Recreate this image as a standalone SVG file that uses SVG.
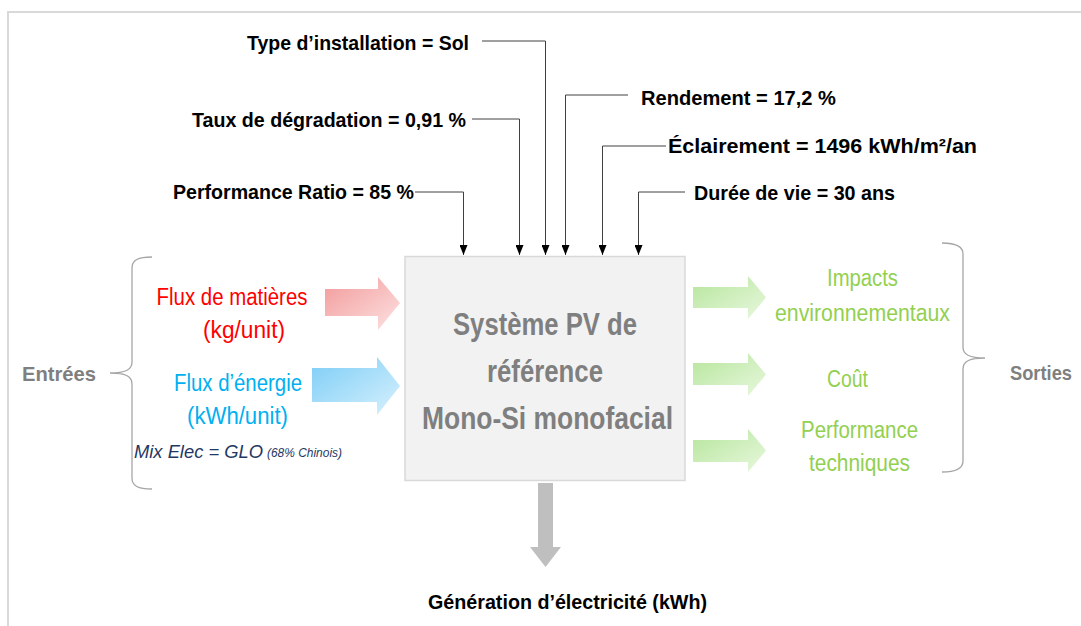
<svg xmlns="http://www.w3.org/2000/svg" width="1081" height="626" viewBox="0 0 1081 626">
<defs>
<style>
.lbl{font-family:"Liberation Sans",Arial,sans-serif;font-weight:bold;font-size:21px;fill:#000}
.side{font-family:"Liberation Sans",Arial,sans-serif;font-weight:bold;font-size:21px;fill:#7f7f7f}
.box{font-family:"Liberation Sans",Arial,sans-serif;font-weight:bold;font-size:31px;fill:#7f7f7f}
.red{font-family:"Liberation Sans",Arial,sans-serif;font-size:23px;fill:#ff0000}
.blue{font-family:"Liberation Sans",Arial,sans-serif;font-size:23px;fill:#00b0f0}
.green{font-family:"Liberation Sans",Arial,sans-serif;font-size:23px;fill:#92d050}
.mix{font-family:"Liberation Sans",Arial,sans-serif;font-style:italic;fill:#1f3864}
.conn{fill:none;stroke:#404040;stroke-width:1}
.brace{fill:none;stroke:#a6a6a6;stroke-width:1.3}
</style>
<marker id="ah" markerWidth="10" markerHeight="8" refX="10" refY="4" orient="auto" markerUnits="userSpaceOnUse">
<path d="M0,0 L10,4 L0,8 z" fill="#000"/>
</marker>
<linearGradient id="gRed" x1="0" y1="0" x2="1" y2="1">
<stop offset="0" stop-color="#f29a9a"/><stop offset="1" stop-color="#fde2e2"/>
</linearGradient>
<linearGradient id="gBlue" x1="0" y1="0" x2="1" y2="1">
<stop offset="0" stop-color="#7ccdf6"/><stop offset="1" stop-color="#d8f1fd"/>
</linearGradient>
<linearGradient id="gGreen" x1="0" y1="0" x2="1" y2="1">
<stop offset="0" stop-color="#b6e59c"/><stop offset="1" stop-color="#e8f8de"/>
</linearGradient>
</defs>

<rect width="1081" height="626" fill="#fff"/>
<path d="M8,626 V12 H1081" fill="none" stroke="#d9d9d9" stroke-width="2"/>

<g id="system">
<rect x="405" y="256.5" width="280" height="224" fill="#f2f2f2" stroke="#d9d9d9" stroke-width="1.5"/>
<text class="box" x="545" y="335" text-anchor="middle" textLength="184" lengthAdjust="spacingAndGlyphs">Système PV de</text>
<text class="box" x="545" y="382" text-anchor="middle" textLength="116" lengthAdjust="spacingAndGlyphs">référence</text>
<text class="box" x="547.5" y="429" text-anchor="middle" textLength="251" lengthAdjust="spacingAndGlyphs">Mono-Si monofacial</text>
</g>

<g id="params">
<text class="lbl" x="247" y="50" textLength="222" lengthAdjust="spacingAndGlyphs">Type d’installation = Sol</text>
<text class="lbl" x="192" y="127" textLength="274" lengthAdjust="spacingAndGlyphs">Taux de dégradation = 0,91 %</text>
<text class="lbl" x="173" y="199" textLength="241" lengthAdjust="spacingAndGlyphs">Performance Ratio = 85 %</text>
<text class="lbl" x="641" y="105" textLength="195" lengthAdjust="spacingAndGlyphs">Rendement = 17,2 %</text>
<text class="lbl" x="668" y="153" textLength="309" lengthAdjust="spacingAndGlyphs">Éclairement = 1496 kWh/m²/an</text>
<text class="lbl" x="694" y="200" textLength="201" lengthAdjust="spacingAndGlyphs">Durée de vie = 30 ans</text>
</g>

<g id="connectors">
<path class="conn" d="M482,41 H545.5 V255" marker-end="url(#ah)"/>
<path class="conn" d="M472,119 H519.5 V255" marker-end="url(#ah)"/>
<path class="conn" d="M415,192 H463.5 V255" marker-end="url(#ah)"/>
<path class="conn" d="M628,95 H565.5 V255" marker-end="url(#ah)"/>
<path class="conn" d="M666,146 H602.5 V255" marker-end="url(#ah)"/>
<path class="conn" d="M685,192 H638.5 V255" marker-end="url(#ah)"/>
</g>

<g id="inputs">
<path class="brace" d="M152,257 C138,257 132,260 132,268 V362 C132,370 125,373 110,373 C125,373 132,376 132,384 V478 C132,486 138,489 152,489"/>
<text class="side" x="22" y="381" textLength="74" lengthAdjust="spacingAndGlyphs">Entrées</text>
<text class="red" x="232" y="305" text-anchor="middle" textLength="151" lengthAdjust="spacingAndGlyphs">Flux de matières</text>
<text class="red" x="244" y="338" text-anchor="middle" textLength="82" lengthAdjust="spacingAndGlyphs">(kg/unit)</text>
<text class="blue" x="238" y="391" text-anchor="middle" textLength="128" lengthAdjust="spacingAndGlyphs">Flux d’énergie</text>
<text class="blue" x="237.5" y="424" text-anchor="middle" textLength="101" lengthAdjust="spacingAndGlyphs">(kWh/unit)</text>
<text class="mix" x="134" y="458" font-size="19" textLength="129" lengthAdjust="spacingAndGlyphs">Mix Elec = GLO</text>
<text class="mix" x="267" y="457" font-size="13" textLength="75" lengthAdjust="spacingAndGlyphs">(68% Chinois)</text>
<polygon points="325,289 378,289 378,277 400,303 378,330 378,316 325,316" fill="url(#gRed)"/>
<polygon points="312,368 377,368 377,357 400,386 377,415 377,402 312,402" fill="url(#gBlue)"/>
</g>

<g id="outputs">
<polygon points="693,287 748,287 748,276 766,297.5 748,319 748,308 693,308" fill="url(#gGreen)"/>
<polygon points="693,363 748,363 748,353 766,374.5 748,396 748,385 693,385" fill="url(#gGreen)"/>
<polygon points="693,440 748,440 748,429 766,450.5 748,472 748,462 693,462" fill="url(#gGreen)"/>
<text class="green" x="862.5" y="286" text-anchor="middle" textLength="71" lengthAdjust="spacingAndGlyphs">Impacts</text>
<text class="green" x="862.5" y="321" text-anchor="middle" textLength="175" lengthAdjust="spacingAndGlyphs">environnementaux</text>
<text class="green" x="847.5" y="387" text-anchor="middle" textLength="41" lengthAdjust="spacingAndGlyphs">Coût</text>
<text class="green" x="859.5" y="438" text-anchor="middle" textLength="117" lengthAdjust="spacingAndGlyphs">Performance</text>
<text class="green" x="859.5" y="471" text-anchor="middle" textLength="101" lengthAdjust="spacingAndGlyphs">techniques</text>
<path class="brace" d="M942,243 C956,243 963,246 963,254 V347 C963,355 970,358 985,358 C970,358 963,361 963,369 V461 C963,469 956,472 942,472"/>
<text class="side" x="1010" y="380" textLength="62" lengthAdjust="spacingAndGlyphs">Sorties</text>
</g>

<g id="generation">
<polygon points="538,483 553,483 553,547 561,547 545.5,567 530,547 538,547" fill="#bfbfbf"/>
<text class="lbl" x="428" y="609" textLength="279" lengthAdjust="spacingAndGlyphs">Génération d’électricité (kWh)</text>
</g>
</svg>
